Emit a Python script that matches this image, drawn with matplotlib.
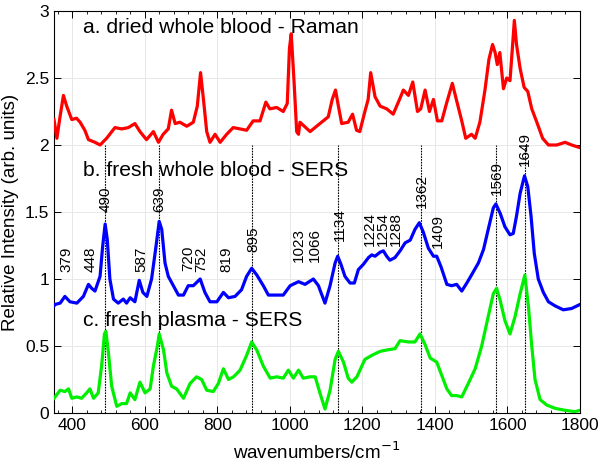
import matplotlib
matplotlib.use("Agg")
import matplotlib.pyplot as plt
from matplotlib.ticker import MultipleLocator

plt.rcParams['font.family'] = ['Liberation Sans', 'DejaVu Sans']

# ---------------- data ----------------
raman_x = [350, 358, 366, 376, 385, 399, 412, 422, 435, 445, 463, 477, 495, 518, 537, 555,
           573, 587, 605, 624, 638, 651, 665, 674, 684, 697, 716, 734, 745, 754, 762, 771,
           780, 794, 808, 826, 844, 863, 881, 899, 918, 934, 945, 964, 982, 993, 999, 1004,
           1012, 1019, 1024, 1028, 1056, 1083, 1106, 1117, 1126, 1134, 1143, 1161, 1173,
           1184, 1193, 1207, 1216, 1223, 1235, 1249, 1267, 1285, 1304, 1313, 1327, 1339,
           1352, 1361, 1373, 1385, 1396, 1407, 1419, 1432, 1448, 1460, 1474, 1485, 1501,
           1511, 1524, 1538, 1549, 1559, 1566, 1572, 1579, 1589, 1598, 1607, 1613, 1619,
           1625, 1635, 1646, 1656, 1667, 1681, 1697, 1713, 1736, 1759, 1777, 1800]
raman_y = [2.19, 2.05, 2.20, 2.37, 2.29, 2.19, 2.20, 2.17, 2.11, 2.04, 2.02, 2.00, 2.05, 2.13,
           2.12, 2.13, 2.16, 2.10, 2.04, 2.10, 2.02, 2.08, 2.12, 2.26, 2.16, 2.17, 2.14, 2.17,
           2.29, 2.54, 2.34, 2.10, 2.02, 2.08, 2.02, 2.08, 2.13, 2.12, 2.11, 2.18, 2.18, 2.32,
           2.27, 2.28, 2.25, 2.31, 2.72, 2.83, 2.46, 2.10, 2.08, 2.17, 2.10, 2.16, 2.21, 2.34,
           2.41, 2.29, 2.16, 2.17, 2.23, 2.11, 2.10, 2.25, 2.34, 2.54, 2.36, 2.29, 2.27, 2.23,
           2.35, 2.41, 2.37, 2.47, 2.25, 2.27, 2.41, 2.25, 2.34, 2.18, 2.18, 2.31, 2.46, 2.33,
           2.18, 2.05, 2.08, 2.05, 2.17, 2.41, 2.64, 2.75, 2.69, 2.60, 2.69, 2.42, 2.50, 2.48,
           2.70, 2.93, 2.75, 2.57, 2.43, 2.40, 2.27, 2.17, 2.05, 2.00, 2.00, 2.02, 2.00, 1.98]

blood_x = [350, 353, 367, 380, 394, 413, 431, 445, 454, 463, 477, 484, 491, 497, 504, 514,
           527, 541, 550, 560, 573, 585, 595, 606, 619, 631, 640, 647, 656, 665, 679, 693,
           707, 720, 734, 753, 766, 780, 799, 817, 831, 849, 867, 881, 895, 909, 927, 941,
           964, 982, 1001, 1024, 1042, 1065, 1079, 1083, 1097, 1111, 1125, 1132, 1141, 1152,
           1166, 1178, 1189, 1203, 1217, 1226, 1235, 1249, 1258, 1267, 1276, 1290, 1304,
           1318, 1332, 1345, 1357, 1368, 1382, 1396, 1405, 1417, 1433, 1446, 1460, 1474,
           1488, 1501, 1520, 1534, 1547, 1561, 1568, 1580, 1593, 1607, 1616, 1625, 1635,
           1647, 1656, 1665, 1674, 1685, 1699, 1713, 1731, 1754, 1777, 1800]
blood_y = [0.80, 0.81, 0.82, 0.87, 0.83, 0.82, 0.87, 0.96, 0.93, 0.91, 1.02, 1.24, 1.41, 1.29,
           1.00, 0.85, 0.82, 0.85, 0.82, 0.86, 0.83, 0.99, 0.90, 0.87, 1.00, 1.24, 1.43, 1.37,
           1.12, 1.02, 0.95, 0.88, 0.88, 0.95, 0.95, 1.00, 0.90, 0.83, 0.83, 0.90, 0.86, 0.87,
           0.92, 1.02, 1.08, 1.03, 0.95, 0.88, 0.88, 0.88, 0.95, 0.98, 0.96, 1.00, 0.95, 0.92,
           0.82, 0.95, 1.12, 1.17, 1.11, 1.02, 0.97, 0.97, 1.07, 1.11, 1.16, 1.18, 1.17, 1.20,
           1.21, 1.17, 1.14, 1.16, 1.21, 1.27, 1.29, 1.37, 1.42, 1.35, 1.23, 1.17, 1.17, 1.09,
           0.96, 0.95, 0.96, 0.91, 0.97, 1.03, 1.12, 1.22, 1.37, 1.53, 1.56, 1.49, 1.39, 1.33,
           1.34, 1.47, 1.64, 1.77, 1.69, 1.47, 1.19, 1.00, 0.90, 0.83, 0.80, 0.77, 0.78, 0.81]

plasma_x = [350, 353, 367, 380, 390, 399, 413, 426, 440, 449, 459, 472, 482, 489, 493, 500,
            509, 523, 537, 550, 560, 573, 587, 601, 615, 624, 635, 640, 652, 661, 674, 688,
            707, 725, 743, 757, 771, 789, 803, 817, 831, 845, 863, 881, 895, 909, 927, 946,
            964, 982, 996, 1010, 1024, 1037, 1056, 1070, 1083, 1097, 1111, 1125, 1134, 1148,
            1161, 1171, 1185, 1207, 1226, 1249, 1267, 1290, 1304, 1327, 1345, 1359, 1373,
            1387, 1405, 1419, 1433, 1446, 1460, 1474, 1492, 1511, 1529, 1547, 1561, 1570,
            1580, 1593, 1607, 1621, 1635, 1648, 1658, 1667, 1676, 1690, 1708, 1731, 1759,
            1786, 1800]
plasma_y = [0.11, 0.12, 0.17, 0.16, 0.18, 0.11, 0.12, 0.11, 0.15, 0.18, 0.11, 0.15, 0.37, 0.59,
            0.61, 0.45, 0.20, 0.05, 0.07, 0.07, 0.15, 0.10, 0.23, 0.15, 0.18, 0.35, 0.50, 0.59,
            0.47, 0.30, 0.20, 0.18, 0.11, 0.22, 0.27, 0.25, 0.17, 0.16, 0.22, 0.33, 0.25, 0.27,
            0.32, 0.43, 0.53, 0.47, 0.35, 0.26, 0.27, 0.26, 0.32, 0.26, 0.32, 0.26, 0.27, 0.27,
            0.15, 0.03, 0.17, 0.40, 0.46, 0.38, 0.26, 0.23, 0.27, 0.40, 0.43, 0.46, 0.47, 0.48,
            0.54, 0.53, 0.53, 0.59, 0.51, 0.41, 0.38, 0.28, 0.18, 0.13, 0.13, 0.12, 0.22, 0.33,
            0.50, 0.72, 0.89, 0.93, 0.84, 0.69, 0.59, 0.72, 0.89, 1.03, 0.79, 0.50, 0.25, 0.10,
            0.06, 0.035, 0.02, 0.01, 0.02]

# marked bands (dashed lines) and their labels
band_lines = [490, 639, 895, 1134, 1362, 1569, 1649]
band_labels = ['379', '448', '490', '587', '639', '720', '752', '819', '895', '1023', '1066',
               '1134', '1224', '1254', '1288', '1362', '1409', '1569', '1649']
label_x = [385, 451, 493, 592, 640, 720, 757, 826, 899, 1025, 1069, 1138, 1221, 1256, 1293,
           1364, 1408, 1570, 1648]
label_y = [1.05, 1.05, 1.50, 1.05, 1.50, 1.06, 1.05, 1.05, 1.20, 1.13, 1.13, 1.28, 1.25, 1.25,
           1.25, 1.53, 1.23, 1.63, 1.84]

titles = ['a. dried whole blood - Raman', 'b. fresh whole blood - SERS', 'c. fresh plasma - SERS']
title_y = [2.88, 1.81, 0.69]

# ---------------- figure ----------------
fig = plt.figure(figsize=(6.01, 4.68), dpi=100)
ax = fig.add_axes([54 / 601, 1 - 413 / 468, 526 / 601, 402 / 468])

ax.grid(True, color='#e8e8e8', linewidth=0.7)
ax.set_axisbelow(True)

for bx in band_lines:
    ax.plot([bx, bx], [0, 2.0], color='black', linestyle=(0, (1.5, 1.0)), linewidth=0.8, zorder=2)

ax.plot(raman_x, raman_y, color='#ff0000', linewidth=2.3, zorder=3)
ax.plot(blood_x, blood_y, color='#0000ff', linewidth=2.3, zorder=3)
ax.plot(plasma_x, plasma_y, color='#00ee00', linewidth=2.3, zorder=3)

for t, x, y in zip(band_labels, label_x, label_y):
    ax.text(x, y, t, rotation=90, ha='center', va='bottom', fontsize=11, zorder=4)

for t, y in zip(titles, title_y):
    ax.text(430, y, t, ha='left', va='center', fontsize=15.2, zorder=4)

ax.set_xlim(350, 1800)
ax.set_ylim(0, 3)
ax.xaxis.set_major_locator(MultipleLocator(200))
ax.xaxis.set_minor_locator(MultipleLocator(40))
ax.set_yticks([0, 0.5, 1, 1.5, 2, 2.5, 3])
ax.set_yticklabels(['0', '0.5', '1', '1.5', '2', '2.5', '3'])
ax.tick_params(which='both', direction='in', top=True, right=True, labelsize=12.5)
ax.tick_params(which='major', length=5, width=0.7)
ax.tick_params(which='minor', length=2.5, width=0.6)
for s in ax.spines.values():
    s.set_linewidth(0.8)

ax.set_xlabel('wavenumbers/cm$^{-1}$', fontsize=13.5, labelpad=6)
ax.set_ylabel('Relative Intensity (arb. units)', fontsize=13.5, labelpad=4)

fig.savefig('out.png', dpi=100)
